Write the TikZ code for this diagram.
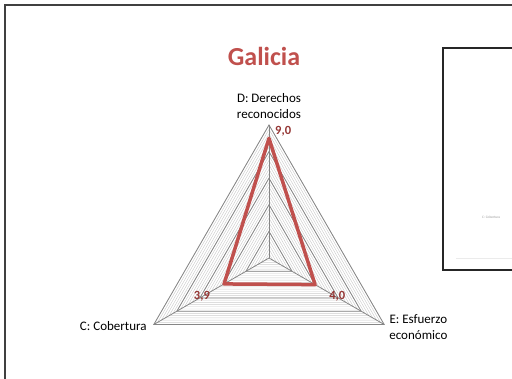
\documentclass[tikz,border=0pt]{standalone}
\usepackage{fontspec}
\setmainfont{Carlito}
\usetikzlibrary{positioning}
\definecolor{serie}{RGB}{192,80,77}
\definecolor{etiq}{RGB}{149,55,53}
\definecolor{rejilla}{RGB}{134,134,134}
\definecolor{menor}{RGB}{205,205,205}

\begin{document}
\begin{tikzpicture}[x=1pt, y=1pt, node distance={5pt},
		eje/.style={font=\fontsize{13}{16}\selectfont, align=center, inner sep=1pt},
		dato/.style={font=\fontsize{12.5}{14}\selectfont\bfseries, text=etiq, inner sep=0pt}]
		\useasboundingbox (-269,-120) rectangle (243,258);
		\clip (-269,-120) rectangle (243,258);
		\draw[line width=2pt, black!75] (-264,253) rectangle (262,-140);

		% rejilla
		\foreach \i in {1,...,30}
			\draw[menor, line width=0.45pt] (90:\i*4.4333) -- (210:\i*4.4333) -- (330:\i*4.4333) -- cycle;
		\foreach \i in {1,...,5}
			\draw[rejilla, line width=0.8pt] (90:\i*26.6) -- (210:\i*26.6) -- (330:\i*26.6) -- cycle;
		\foreach \a/\n in {90/D, 210/C, 330/E}
			\draw[rejilla, line width=0.8pt] (0,0) -- (\a:133) coordinate (\n);

		\node[font=\fontsize{26}{30}\selectfont\bfseries, text=serie] (titulo) at (-5,202) {Galicia};
		\node[eje] (lD) [above=5pt of D] {D: Derechos\\reconocidos};
		\node[eje] (lC) [left=6pt of C, yshift=-2pt] {C: Cobertura};
		\node[eje] (lE) [right=4pt of E, yshift=-3pt] {E: Esfuerzo\\económico};

		% serie
		\coordinate (pD) at (90:9*13.3);
		\coordinate (pC) at (210:3.9*13.3);
		\coordinate (pE) at (330:4*13.3);
		\draw[serie, line width=3.5pt, line join=round] (pD) -- (pC) -- (pE) -- cycle;
		\node[dato] (vD) [above right=2pt and 6pt of pD] {9,0};
		\node[dato] (vC) [below left=7pt and 14pt of pC] {3,9};
		\node[dato] (vE) [below right=7pt and 14pt of pE] {4,0};

		% grafico vecino
		\draw[line width=1.5pt, black!85] (174,210) rectangle (262,-12);
		\draw[black!8, line width=0.8pt] (187,0) -- (250,0);
		\node[font=\fontsize{3.5}{4}\selectfont, text=black!40, anchor=west, inner sep=0pt] (mini) at (213,41) {C: Cobertura};
	\end{tikzpicture}
\end{document}
